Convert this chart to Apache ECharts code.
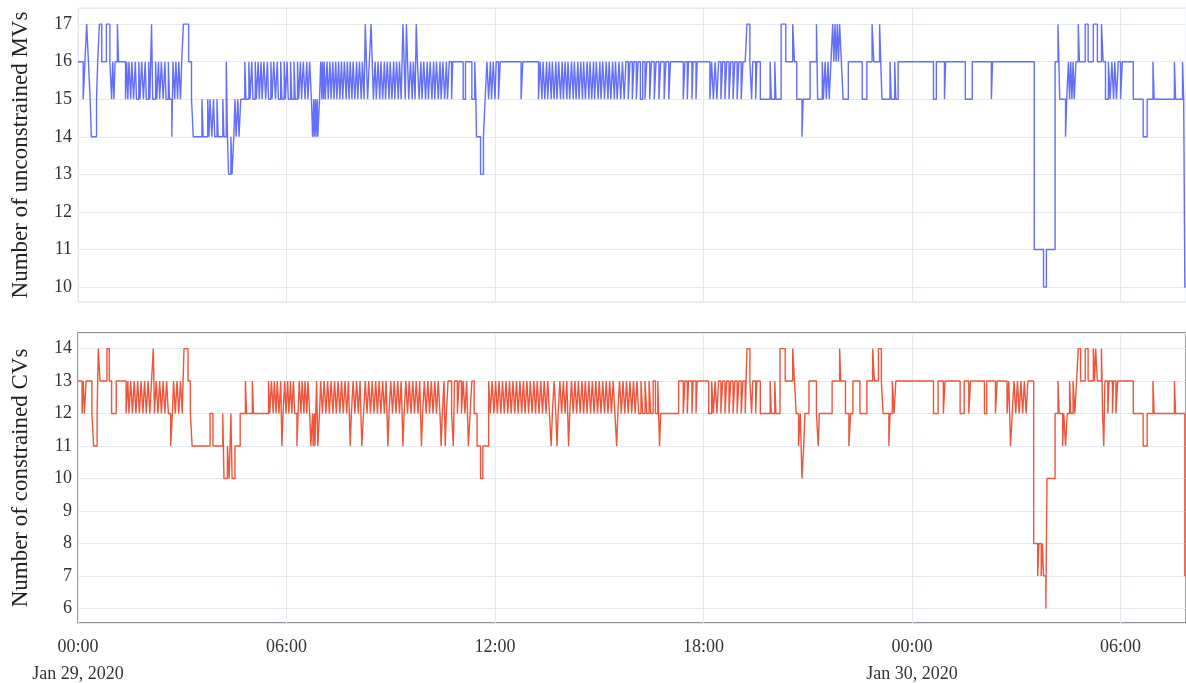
<!DOCTYPE html>
<html>
<head>
<meta charset="utf-8">
<title>MVs / CVs</title>
<script src="https://cdn.jsdelivr.net/npm/echarts@6/dist/echarts.min.js"></script>
<style>
  html, body { margin: 0; padding: 0; background: #fff; }
  #main { width: 1186px; height: 683px; }
</style>
</head>
<body>
<div id="main"></div>
<script>
// minutes after Jan 29, 2020 00:00 -> value from that minute on (step)
var mvSteps = [
  [0,16],[9,15],[12,16],[15,17],[18,16],[21,15],[23,14],[32,15],[34,16],[37,17],[41,16],[49,17],[55,16],[58,15],[60,16],[62,15],[64,16],[68,17],[70,16],
  [82,15],[84,16],[86,15],[88,16],[91,15],[93,16],[96,15],[99,16],[101,15],[105,16],[107,15],[110,16],[113,15],[116,16],[118,15],[122,16],[124,15],[127,17],[129,15],
  [134,16],[136,15],[139,16],[141,15],[144,16],[147,15],[150,16],[152,15],[156,16],[158,15],[162,14],[164,16],[167,15],[169,16],[172,15],[174,16],[177,15],[179,16],
  [182,17],[191,16],[196,15],[199,14],[214,15],[216,14],[224,15],[226,14],[228,15],[231,14],[234,15],[236,14],[240,15],[242,14],[250,15],[252,14],[256,16],[258,14],
  [260,13],[264,14],[266,13],[269,14],[271,15],[273,14],[276,15],[278,14],[281,15],[288,16],[290,15],[295,16],[297,15],[300,16],[302,15],[306,16],[308,15],
  [311,16],[313,15],[316,16],[318,15],[321,16],[324,15],[327,16],[329,15],[333,16],[335,15],[338,16],[341,15],[344,16],[346,15],[350,16],[352,15],[356,16],[358,15],
  [361,16],[363,15],[367,16],[369,15],[373,16],[375,15],[379,16],[381,15],[384,16],[386,15],[389,16],[392,15],[395,16],[397,15],[400,16],[403,15],[405,14],[407,15],
  [408,14],[410,15],[411,14],[413,15],[414,14],[417,15],[419,16],[421,15],[422,16],[424,15],[425,16],[427,15],[430,16],[432,15],[435,16],[437,15],[440,16],[442,15],
  [445,16],[447,15],[450,16],[452,15],[455,16],[457,15],[460,16],[463,15],[465,16],[468,15],[470,16],[473,15],[475,16],[478,15],[481,16],[483,15],[486,16],[489,15],
  [491,16],[494,15],[496,17],[498,16],[500,15],[503,16],[506,17],[508,16],[510,15],[513,16],[515,15],[518,16],[521,15],[523,16],[526,15],[529,16],[531,15],[534,16],
  [537,15],[539,16],[542,15],[545,16],[547,15],[550,16],[553,15],[555,16],[558,15],[561,17],[563,16],[565,15],[567,17],[569,16],[571,15],[574,16],[577,15],[579,16],
  [582,15],[584,17],[586,16],[589,15],[592,16],[594,15],[597,16],[600,15],[603,16],[605,15],[608,16],[611,15],[614,16],[616,15],[619,16],[622,15],[625,16],[627,15],
  [630,16],[633,15],[636,16],[638,15],[641,16],[645,15],[647,16],[665,15],[669,16],[680,15],[685,16],[687,15],[688,14],[695,13],[700,14],[703,15],[706,16],[709,15],
  [712,16],[714,15],[717,16],[720,15],[722,16],[726,15],[729,16],[765,15],[768,16],[795,15],[798,16],[801,15],[803,16],[806,15],[809,16],[811,15],[814,16],[817,15],
  [819,16],[822,15],[825,16],[827,15],[830,16],[833,15],[836,16],[838,15],[841,16],[844,15],[846,16],[849,15],[852,16],[855,15],[857,16],[860,15],[863,16],[865,15],
  [868,16],[871,15],[873,16],[876,15],[879,16],[882,15],[884,16],[887,15],[890,16],[892,15],[895,16],[898,15],[901,16],[903,15],[906,16],[909,15],[912,16],[915,15],
  [917,16],[920,15],[923,16],[926,15],[928,16],[931,15],[934,16],[937,15],[940,16],[943,15],[946,16],[950,15],[953,16],[957,15],[960,16],[964,15],[967,16],[971,15],
  [975,16],[979,15],[982,16],[987,15],[990,16],[995,15],[998,16],[1003,15],[1006,16],[1012,15],[1015,16],[1020,15],[1023,16],[1045,15],[1048,16],[1052,15],[1054,16],
  [1060,15],[1062,16],[1067,15],[1069,16],[1091,15],[1094,16],[1097,15],[1100,16],[1103,15],[1106,16],[1110,15],[1113,16],[1117,15],[1120,16],[1124,15],[1127,16],
  [1131,15],[1134,16],[1138,15],[1141,16],[1145,15],[1148,16],[1152,16],[1155,17],[1160,16],[1163,15],[1165,16],[1170,15],[1172,16],[1178,15],[1195,16],[1197,15],
  [1203,16],[1205,15],[1214,17],[1222,16],[1234,17],[1237,16],[1241,15],[1250,14],[1252,15],[1264,16],[1275,17],[1277,15],[1285,16],[1287,15],[1290,16],[1292,15],
  [1295,16],[1297,15],[1300,16],[1303,17],[1305,16],[1307,17],[1309,16],[1311,17],[1313,16],[1315,17],[1318,16],[1321,15],[1330,16],[1354,15],[1362,16],[1371,17],
  [1374,16],[1384,17],[1386,16],[1388,15],[1402,16],[1404,15],[1410,16],[1412,15],[1416,16],[1477,15],[1482,16],[1496,15],[1498,16],[1532,15],[1544,16],[1577,15],
  [1579,16],[1651,11],[1667,10],[1672,11],[1687,16],[1692,17],[1695,15],[1705,14],[1707,15],[1710,16],[1712,15],[1714,16],[1716,15],[1718,16],[1720,15],[1723,16],
  [1727,17],[1729,16],[1739,17],[1744,16],[1753,17],[1760,16],[1767,17],[1770,16],[1774,15],[1779,16],[1782,15],[1785,16],[1788,15],[1790,16],[1793,15],[1796,16],
  [1800,15],[1803,16],[1822,15],[1839,14],[1846,15],[1856,16],[1858,15],[1893,16],[1895,15],[1907,16],[1909,15],[1911,10],[1913,10]
];

var cvSteps = [
  [0,13],[7,12],[9,13],[11,12],[14,13],[24,12],[27,11],[33,12],[35,14],[38,13],[50,14],[54,13],[58,12],[66,13],[83,12],[86,13],[88,12],[91,13],[94,12],[97,13],
  [100,12],[103,13],[106,12],[109,13],[112,12],[115,13],[118,12],[121,13],[124,12],[127,13],[130,14],[132,12],[135,13],[138,12],[141,13],[144,12],[147,13],[150,12],
  [153,13],[156,12],[160,11],[163,12],[165,13],[168,12],[171,13],[174,12],[177,13],[180,12],[183,14],[190,13],[194,12],[197,11],[228,12],[233,11],[250,12],[252,10],
  [258,11],[261,10],[264,12],[266,10],[271,11],[280,12],[289,13],[291,12],[301,13],[303,12],[329,13],[331,12],[334,13],[337,12],[339,13],[342,12],[344,13],[347,12],
  [350,13],[352,11],[354,12],[357,13],[359,12],[362,13],[364,12],[367,13],[369,12],[372,13],[374,12],[378,11],[380,12],[382,13],[385,12],[387,13],[390,12],[392,13],
  [395,12],[397,13],[400,12],[402,11],[405,12],[406,11],[408,12],[409,11],[412,13],[414,11],[417,12],[419,13],[422,12],[425,13],[428,12],[431,13],[434,12],[437,13],
  [440,12],[443,13],[446,12],[449,13],[452,12],[455,13],[458,12],[461,13],[464,12],[467,13],[470,11],[472,12],[475,13],[478,12],[481,13],[484,12],[487,13],[490,11],
  [493,12],[496,13],[499,12],[502,13],[505,12],[508,13],[511,12],[514,13],[517,12],[520,13],[523,12],[526,13],[529,12],[532,13],[535,11],[537,12],[540,13],[543,12],
  [546,13],[549,12],[552,13],[555,12],[558,13],[561,11],[563,12],[566,13],[569,12],[572,13],[575,12],[578,13],[581,12],[584,13],[587,12],[590,13],[593,11],[595,12],
  [598,13],[601,12],[604,13],[607,12],[610,13],[613,12],[616,13],[619,12],[622,13],[625,12],[627,11],[629,12],[632,13],[634,11],[636,12],[639,13],[645,12],[648,11],
  [650,13],[655,12],[658,13],[662,12],[665,13],[668,12],[671,13],[674,11],[677,12],[680,13],[684,12],[689,11],[695,10],[699,11],[709,13],[712,12],[715,13],[718,12],
  [721,13],[724,12],[727,13],[730,12],[733,13],[736,12],[739,13],[742,12],[745,13],[748,12],[751,13],[754,12],[757,13],[760,12],[763,13],[766,12],[769,13],[772,12],
  [775,13],[778,12],[781,13],[784,12],[787,13],[790,12],[793,13],[796,12],[799,13],[802,12],[805,13],[808,12],[811,13],[814,12],[817,11],[819,12],[822,13],[825,12],
  [827,11],[829,12],[832,13],[835,12],[838,13],[841,12],[844,13],[847,11],[849,12],[852,13],[855,12],[858,13],[861,12],[864,13],[867,12],[870,13],[873,12],[876,13],
  [879,12],[882,13],[885,12],[888,13],[891,12],[894,13],[897,12],[900,13],[903,12],[906,13],[909,12],[912,13],[915,12],[918,13],[921,12],[924,13],[927,12],[930,11],
  [932,12],[935,13],[938,12],[941,13],[944,12],[947,13],[950,12],[953,13],[956,12],[959,13],[962,12],[965,13],[968,12],[972,13],[975,12],[979,13],[982,12],[986,13],
  [989,12],[993,13],[997,12],[1001,13],[1004,11],[1006,12],[1037,13],[1045,12],[1048,13],[1052,12],[1054,13],[1060,12],[1062,13],[1067,12],[1069,13],[1089,12],
  [1094,13],[1097,12],[1100,13],[1103,12],[1106,13],[1110,12],[1113,13],[1117,12],[1120,13],[1124,12],[1127,13],[1131,12],[1134,13],[1138,12],[1141,13],[1145,12],
  [1148,13],[1152,12],[1155,14],[1160,13],[1163,12],[1165,13],[1170,12],[1172,13],[1178,12],[1195,13],[1197,12],[1203,13],[1205,12],[1212,14],[1221,13],[1234,14],
  [1237,13],[1240,12],[1244,11],[1247,12],[1250,10],[1253,11],[1255,12],[1262,13],[1275,12],[1278,11],[1280,12],[1302,13],[1315,14],[1317,13],[1325,12],[1331,11],
  [1334,12],[1338,13],[1350,12],[1362,13],[1372,14],[1375,13],[1382,14],[1387,13],[1390,12],[1400,11],[1402,12],[1406,13],[1409,12],[1412,13],[1477,12],[1485,13],
  [1494,12],[1497,13],[1523,12],[1530,13],[1538,12],[1541,13],[1565,12],[1569,13],[1584,12],[1587,13],[1604,12],[1607,13],[1610,11],[1613,12],[1616,13],[1619,12],
  [1622,13],[1625,12],[1628,13],[1631,12],[1634,13],[1637,12],[1640,13],[1650,8],[1657,7],[1659,8],[1663,7],[1665,8],[1667,7],[1671,6],[1673,10],[1687,12],[1692,13],
  [1694,12],[1700,11],[1702,12],[1705,11],[1708,12],[1712,13],[1714,12],[1718,13],[1721,12],[1724,13],[1727,14],[1731,13],[1739,14],[1744,13],[1753,14],[1755,13],
  [1757,14],[1760,13],[1767,14],[1769,12],[1771,11],[1773,13],[1778,12],[1780,13],[1786,12],[1788,13],[1792,12],[1795,13],[1822,12],[1839,11],[1846,12],[1856,13],
  [1858,12],[1893,13],[1895,12],[1911,7],[1913,7]
];

var months = ['Jan'];
var startDay = 29;
var axisEnd = 1913; // minutes shown on x

var myChart = echarts.init(document.getElementById('main'));
var font = '"Liberation Serif", "DejaVu Serif", serif';
var gridColor = '#e6e8f1';

function pad(n) { return (n < 10 ? '0' : '') + n; }
function timeLabel(v) {
  var h = Math.floor(v / 60) % 24;
  var t = '{t|' + pad(h) + ':00}';
  if (v % 1440 === 0) {
    t += '\n{d|' + months[0] + ' ' + (startDay + v / 1440) + ', 2020}';
  }
  return t;
}
function intLabel(v) {
  return Math.abs(v - Math.round(v)) < 1e-6 ? String(Math.round(v)) : '';
}

var option = {
  backgroundColor: '#fff',
  animation: false,
  grid: [
    { left: 78, right: 0, top: 8, height: 294, show: true, borderColor: '#e3e4ea', borderWidth: 1 },
    { left: 78, right: 0, top: 333, height: 295, show: true, borderColor: '#6f6f6f', borderWidth: 1.3 }
  ],
  xAxis: [
    {
      type: 'value', gridIndex: 0, min: 0, max: axisEnd, interval: 360,
      axisLine: { show: false }, axisTick: { show: false }, axisLabel: { show: false },
      splitLine: { lineStyle: { color: gridColor } }
    },
    {
      type: 'value', gridIndex: 1, min: 0, max: axisEnd, interval: 360,
      axisLine: { show: false }, axisTick: { show: false },
      axisLabel: {
        showMaxLabel: false, margin: 10, formatter: timeLabel,
        rich: {
          t: { fontFamily: font, fontSize: 18, color: '#333', lineHeight: 28 },
          d: { fontFamily: font, fontSize: 18, color: '#333', lineHeight: 26 }
        }
      },
      splitLine: { lineStyle: { color: gridColor } }
    }
  ],
  yAxis: [
    {
      type: 'value', gridIndex: 0, min: 9.6, max: 17.43, splitNumber: 8,
      name: 'Number of unconstrained MVs', nameLocation: 'middle', nameGap: 46,
      nameTextStyle: { fontFamily: font, fontSize: 23, color: '#222' },
      axisLine: { show: false }, axisTick: { show: false },
      axisLabel: { fontFamily: font, fontSize: 18, color: '#333', margin: 6, formatter: intLabel },
      splitLine: { lineStyle: { color: gridColor } }
    },
    {
      type: 'value', gridIndex: 1, min: 5.55, max: 14.48, splitNumber: 8,
      name: 'Number of constrained CVs', nameLocation: 'middle', nameGap: 46,
      nameTextStyle: { fontFamily: font, fontSize: 23, color: '#222' },
      axisLine: { show: false }, axisTick: { show: false },
      axisLabel: { fontFamily: font, fontSize: 18, color: '#333', margin: 6, formatter: intLabel },
      splitLine: { lineStyle: { color: gridColor } }
    }
  ],
  series: [
    {
      name: 'MVs', type: 'line', step: 'end', xAxisIndex: 0, yAxisIndex: 0,
      showSymbol: false, data: mvSteps,
      lineStyle: { color: '#636efa', width: 1.4 }, itemStyle: { color: '#636efa' }
    },
    {
      name: 'CVs', type: 'line', step: 'end', xAxisIndex: 1, yAxisIndex: 1,
      showSymbol: false, data: cvSteps,
      lineStyle: { color: '#ef553b', width: 1.4 }, itemStyle: { color: '#ef553b' }
    }
  ]
};
myChart.setOption(option);
window.addEventListener('resize', function () {
  myChart.resize();
});
</script>
</body>
</html>
